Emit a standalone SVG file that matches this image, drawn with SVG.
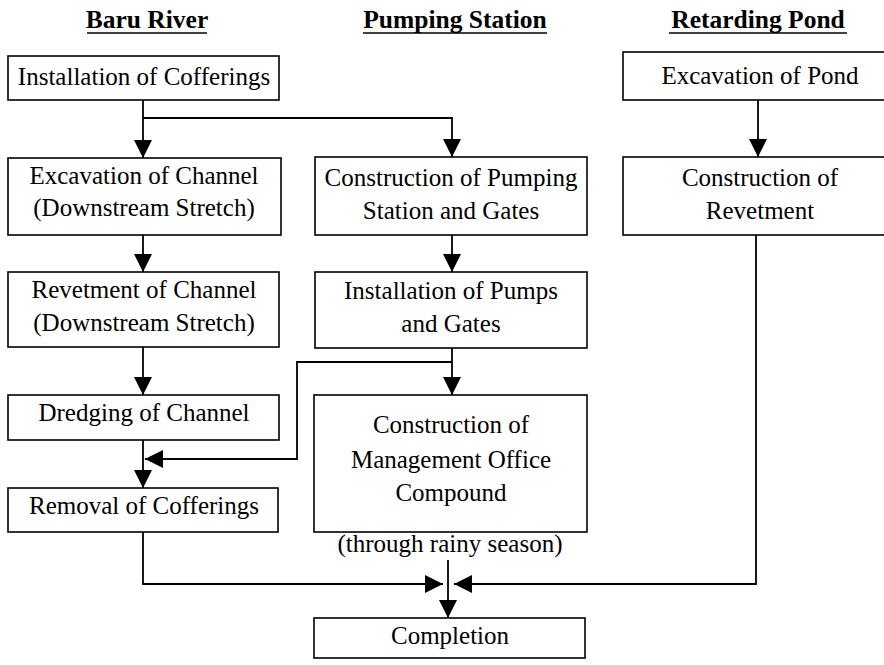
<svg xmlns="http://www.w3.org/2000/svg" width="884" height="665" viewBox="0 0 884 665">
<style>
.box{fill:#fff;stroke:#000;stroke-width:1.6}
.t{font-family:'Liberation Serif','DejaVu Serif',serif;font-size:25px;fill:#000;text-anchor:middle}
.h{font-family:'Liberation Serif','DejaVu Serif',serif;font-size:25.5px;font-weight:bold;fill:#000;text-anchor:middle}
.c{fill:none;stroke:#000;stroke-width:1.8}
</style>
<defs>
<marker id="ah" markerUnits="userSpaceOnUse" markerWidth="18" markerHeight="18" refX="18" refY="9" orient="auto" viewBox="0 0 18 18">
<path d="M0,0 L18,9 L0,18 z" fill="#000"/>
</marker>
</defs>
<g id="headers">
<text class="h" x="147" y="28">Baru River</text>
<line x1="87" y1="33" x2="207" y2="33" stroke="#000" stroke-width="1.3"/>
<text class="h" x="455" y="28">Pumping Station</text>
<line x1="363" y1="33" x2="547" y2="33" stroke="#000" stroke-width="1.3"/>
<text class="h" x="758" y="28">Retarding Pond</text>
<line x1="669" y1="33" x2="847" y2="33" stroke="#000" stroke-width="1.3"/>
</g>
<g id="n1"><rect class="box" x="8" y="56" width="271" height="44"/><text class="t" x="144" y="85">Installation of Cofferings</text></g>
<g id="n2"><rect class="box" x="8" y="158" width="273" height="77"/><text class="t" x="144" y="184">Excavation of Channel</text><text class="t" x="144" y="216">(Downstream Stretch)</text></g>
<g id="n3"><rect class="box" x="8" y="272" width="271" height="75"/><text class="t" x="144" y="298">Revetment of Channel</text><text class="t" x="144" y="331">(Downstream Stretch)</text></g>
<g id="n4"><rect class="box" x="8" y="395" width="271" height="45"/><text class="t" x="144" y="421">Dredging of Channel</text></g>
<g id="n5"><rect class="box" x="8" y="488" width="270" height="44"/><text class="t" x="144" y="514">Removal of Cofferings</text></g>
<g id="n6"><rect class="box" x="315" y="157" width="272" height="78"/><text class="t" x="451" y="186">Construction of Pumping</text><text class="t" x="451" y="219">Station and Gates</text></g>
<g id="n7"><rect class="box" x="315" y="272" width="272" height="76"/><text class="t" x="451" y="299">Installation of Pumps</text><text class="t" x="451" y="332">and Gates</text></g>
<g id="n8"><rect class="box" x="314" y="395" width="273" height="137"/><text class="t" x="451" y="433">Construction of</text><text class="t" x="451" y="468">Management Office</text><text class="t" x="451" y="501">Compound</text></g>
<g id="note"><text class="t" x="450" y="552">(through rainy season)</text></g>
<g id="n9"><rect class="box" x="314" y="618" width="271" height="40"/><text class="t" x="450" y="644">Completion</text></g>
<g id="n10"><rect class="box" x="623" y="52" width="266" height="48"/><text class="t" x="760" y="84">Excavation of Pond</text></g>
<g id="n11"><rect class="box" x="623" y="157" width="266" height="78"/><text class="t" x="760" y="186">Construction of</text><text class="t" x="760" y="219">Revetment</text></g>
<g id="connectors">
<line class="c" x1="143" y1="100" x2="143" y2="158" marker-end="url(#ah)"/>
<polyline class="c" points="143,118 452,118 452,157" marker-end="url(#ah)"/>
<line class="c" x1="143" y1="235" x2="143" y2="272" marker-end="url(#ah)"/>
<line class="c" x1="143" y1="347" x2="143" y2="395" marker-end="url(#ah)"/>
<line class="c" x1="143" y1="440" x2="143" y2="488" marker-end="url(#ah)"/>
<line class="c" x1="452" y1="235" x2="452" y2="272" marker-end="url(#ah)"/>
<line class="c" x1="452" y1="348" x2="452" y2="395" marker-end="url(#ah)"/>
<polyline class="c" points="452,362 297,362 297,459 145,459" marker-end="url(#ah)"/>
<line class="c" x1="758" y1="100" x2="758" y2="157" marker-end="url(#ah)"/>
<line class="c" x1="448" y1="560" x2="448" y2="618" marker-end="url(#ah)"/>
<polyline class="c" points="143,532 143,584 443,584" marker-end="url(#ah)"/>
<polyline class="c" points="756,235 756,584 454,584" marker-end="url(#ah)"/>
</g>
</svg>
